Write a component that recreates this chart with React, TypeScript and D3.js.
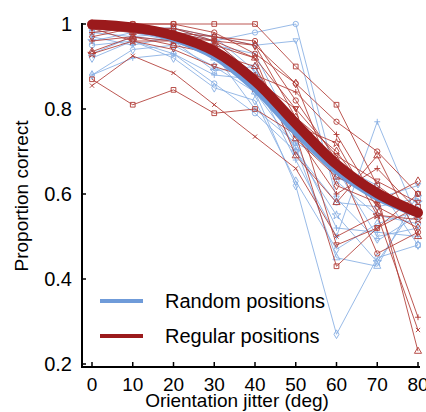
import React from "react";
import * as d3 from "d3";

const jitter = [0, 10, 20, 30, 40, 50, 60, 70, 80];
const yTicks = [0.2, 0.4, 0.6, 0.8, 1];
const yTickLabels = ["0.2", "0.4", "0.6", "0.8", "1"];
const xTickLabels = ["0", "10", "20", "30", "40", "50", "60", "70", "80"];

// Individual observers – random positions (blue)
const randomSubjects: number[][] = [
  [0.99, 0.99, 0.98, 0.96, 0.98, 1.0, 0.63, 0.55, 0.53],
  [0.98, 0.97, 0.98, 0.97, 0.95, 0.96, 0.59, 0.49, 0.55],
  [0.88, 0.94, 0.95, 0.9, 0.84, 0.62, 0.27, 0.45, 0.48],
  [0.88, 0.92, 0.93, 0.88, 0.87, 0.68, 0.5, 0.77, 0.54],
  [0.93, 0.97, 0.96, 0.92, 0.84, 0.71, 0.45, 0.43, 0.6],
  [0.96, 0.98, 0.96, 0.89, 0.9, 0.7, 0.55, 0.44, 0.58],
  [0.99, 0.98, 0.97, 0.95, 0.93, 0.74, 0.66, 0.5, 0.52],
  [0.98, 0.99, 0.99, 0.96, 0.88, 0.72, 0.67, 0.62, 0.48],
  [0.95, 0.96, 0.93, 0.86, 0.79, 0.7, 0.58, 0.57, 0.59],
  [1.0, 0.99, 0.99, 0.97, 0.89, 0.76, 0.64, 0.59, 0.62],
  [0.92, 0.96, 0.92, 0.85, 0.82, 0.63, 0.47, 0.53, 0.56],
  [0.97, 0.95, 0.97, 0.93, 0.8, 0.72, 0.52, 0.51, 0.5],
];

// Individual observers – regular positions (red)
const regularSubjects: number[][] = [
  [1.0, 1.0, 1.0, 1.0, 1.0, 0.9, 0.81, 0.62, 0.55],
  [1.0, 1.0, 1.0, 0.98, 0.93, 0.86, 0.77, 0.7, 0.6],
  [0.99, 0.98, 0.97, 0.96, 0.92, 0.8, 0.69, 0.63, 0.58],
  [0.97, 0.99, 0.99, 0.97, 0.95, 0.86, 0.62, 0.58, 0.63],
  [0.96, 0.97, 0.96, 0.93, 0.88, 0.84, 0.74, 0.58, 0.31],
  [0.935, 0.97, 0.95, 0.93, 0.9, 0.73, 0.64, 0.6, 0.23],
  [0.93, 0.96, 0.96, 0.95, 0.85, 0.76, 0.72, 0.55, 0.54],
  [0.855, 0.925, 0.885, 0.81, 0.735, 0.66, 0.5, 0.55, 0.28],
  [0.87, 0.81, 0.845, 0.79, 0.8, 0.74, 0.43, 0.52, 0.57],
  [1.0, 0.99, 0.98, 0.97, 0.96, 0.82, 0.68, 0.46, 0.51],
  [0.99, 0.96, 0.94, 0.9, 0.87, 0.8, 0.48, 0.52, 0.6],
  [1.0, 0.98, 0.99, 0.96, 0.95, 0.78, 0.7, 0.57, 0.52],
  [0.98, 0.99, 0.98, 0.96, 0.88, 0.74, 0.6, 0.66, 0.56],
  [0.995, 0.98, 0.97, 0.95, 0.92, 0.69, 0.58, 0.69, 0.5],
];

// Group fits
const randomFit = [0.998, 0.99, 0.966, 0.924, 0.848, 0.746, 0.655, 0.592, 0.553];
const regularFit = [0.999, 0.992, 0.973, 0.936, 0.866, 0.766, 0.67, 0.602, 0.556];

const legendLabels = ["Random positions", "Regular positions"];

const BLUE_THIN = "#86aee3";
const RED_THIN = "#b03a34";
const BLUE_FIT = "#6f9bd9";
const RED_FIT = "#9b1a1c";

const plusSym = {
  draw(ctx: any, size: number) {
    const r = Math.sqrt(size) / 1.6;
    ctx.moveTo(-r, 0);
    ctx.lineTo(r, 0);
    ctx.moveTo(0, -r);
    ctx.lineTo(0, r);
  },
};
const xSym = {
  draw(ctx: any, size: number) {
    const r = Math.sqrt(size) / 2.2;
    ctx.moveTo(-r, -r);
    ctx.lineTo(r, r);
    ctx.moveTo(-r, r);
    ctx.lineTo(r, -r);
  },
};
const triDown = {
  draw(ctx: any, size: number) {
    const r = Math.sqrt(size) / 1.7;
    ctx.moveTo(-r, -r * 0.8);
    ctx.lineTo(r, -r * 0.8);
    ctx.lineTo(0, r * 0.9);
    ctx.closePath();
  },
};
const symbolTypes: any[] = [
  d3.symbolSquare,
  d3.symbolCircle,
  triDown,
  d3.symbolDiamond,
  plusSym,
  d3.symbolTriangle,
  d3.symbolStar,
  xSym,
];

export default function App() {
  const width = 426;
  const height = 412;
  const x = d3.scaleLinear().domain([0, 80]).range([92, 418]);
  const y = d3.scaleLinear().domain([0.2, 1]).range([364, 24]);
  const axisX0 = 82;
  const axisY0 = 367;

  const thinLine = d3
    .line<number>()
    .x((_, i) => x(jitter[i]))
    .y((v) => y(v));
  const fitLine = d3
    .line<number>()
    .x((_, i) => x(jitter[i]))
    .y((v) => y(v))
    .curve(d3.curveCatmullRom.alpha(0.5));

  const renderSubjects = (data: number[][], color: string, key: string, offset: number) =>
    data.map((s, si) => {
      const sym = d3.symbol().type(symbolTypes[(si + offset) % symbolTypes.length]).size(22);
      const p = sym() as string;
      return (
        <g key={key + si}>
          <path d={thinLine(s) as string} fill="none" stroke={color} strokeWidth={1} strokeOpacity={0.85} />
          {s.map((v, i) => (
            <path
              key={i}
              d={p}
              transform={`translate(${x(jitter[i])},${y(v)})`}
              fill="none"
              stroke={color}
              strokeWidth={0.9}
            />
          ))}
        </g>
      );
    });

  const font = "Liberation Sans, Arial, Helvetica, sans-serif";

  return (
    <svg width={width} height={height} style={{ position: "absolute", left: 0, top: 0 }} fontFamily={font}>
      <rect width={width} height={height} fill="#fff" />
      {renderSubjects(randomSubjects, BLUE_THIN, "b", 1)}
      {renderSubjects(regularSubjects, RED_THIN, "r", 0)}
      <path d={fitLine(randomFit) as string} fill="none" stroke={BLUE_FIT} strokeWidth={7} strokeLinecap="round" />
      <path d={fitLine(regularFit) as string} fill="none" stroke={RED_FIT} strokeWidth={10} strokeLinecap="round" />

      {/* Axes */}
      <line x1={axisX0} x2={axisX0} y1={y(1) - 1} y2={axisY0} stroke="#000" strokeWidth={2} />
      <line x1={axisX0 - 1} x2={420} y1={axisY0} y2={axisY0} stroke="#000" strokeWidth={2} />
      {yTicks.map((t, i) => (
        <g key={"yt" + i}>
          <line x1={axisX0} x2={axisX0 + 4} y1={y(t)} y2={y(t)} stroke="#000" strokeWidth={1.5} />
          <text x={72} y={y(t)} dy="0.35em" textAnchor="end" fontSize={20}>
            {yTickLabels[i]}
          </text>
        </g>
      ))}
      {jitter.map((t, i) => (
        <g key={"xt" + i}>
          <line x1={x(t)} x2={x(t)} y1={axisY0} y2={axisY0 - 5} stroke="#000" strokeWidth={1.5} />
          <text x={x(t)} y={391} textAnchor="middle" fontSize={19}>
            {xTickLabels[i]}
          </text>
        </g>
      ))}
      <text x={237} y={407} textAnchor="middle" fontSize={19}>
        Orientation jitter (deg)
      </text>
      <text transform={`translate(21,196) rotate(-90)`} dy="0.35em" textAnchor="middle" fontSize={19}>
        Proportion correct
      </text>

      {/* Legend */}
      {[BLUE_FIT, RED_FIT].map((c, i) => (
        <g key={"lg" + i}>
          <line x1={100} x2={143} y1={301 + i * 35} y2={301 + i * 35} stroke={c} strokeWidth={4} />
          <text x={165} y={301 + i * 35} dy="0.35em" fontSize={20}>
            {legendLabels[i]}
          </text>
        </g>
      ))}
    </svg>
  );
}
